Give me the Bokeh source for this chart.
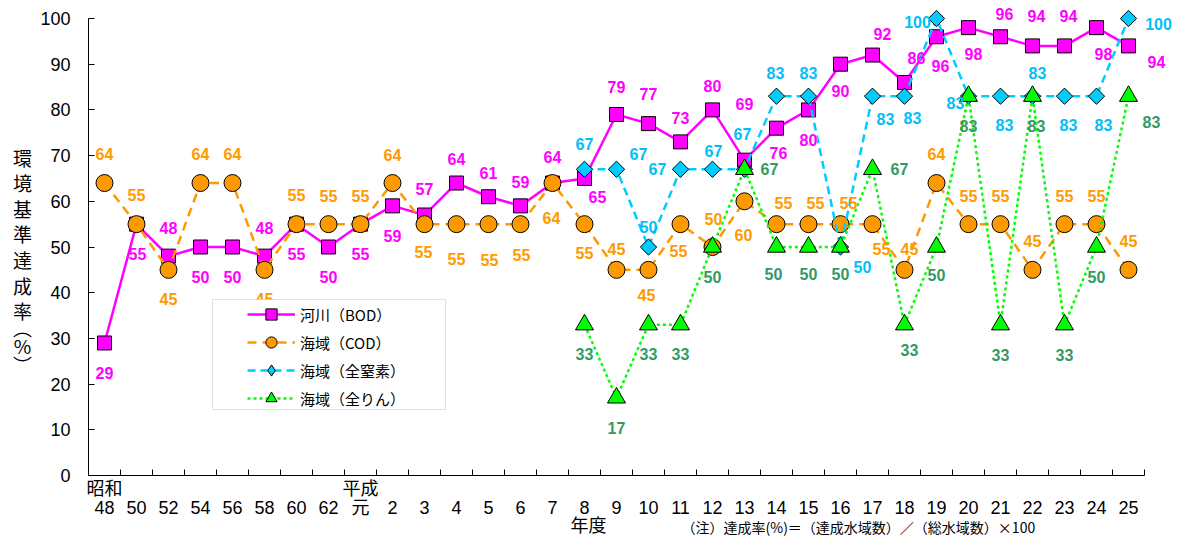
import numpy as np
from bokeh.plotting import figure
from bokeh.models import (ColumnDataSource, Range1d, FixedTicker, Legend, LegendItem,
                          Label, BoxAnnotation)
from bokeh.core.properties import value
from bokeh.embed import file_html
from bokeh.resources import INLINE

# ---------------- data ----------------
year_labels = ["昭和\n48", "50", "52", "54", "56", "58", "60", "62", "平成\n元",
               "2", "3", "4", "5", "6", "7", "8", "9", "10", "11", "12", "13", "14",
               "15", "16", "17", "18", "19", "20", "21", "22", "23", "24", "25"]

bod = [29, 55, 48, 50, 50, 48, 55, 50, 55, 59, 57, 64, 61, 59, 64, 65, 79, 77, 73,
       80, 69, 76, 80, 90, 92, 86, 96, 98, 96, 94, 94, 98, 94]
cod = [64, 55, 45, 64, 64, 45, 55, 55, 55, 64, 55, 55, 55, 55, 64, 55, 45, 45, 55,
       50, 60, 55, 55, 55, 55, 45, 64, 55, 55, 45, 55, 55, 45]
# 海域（全窒素）, 海域（全りん）: from 平成8年度
sea_start_label = "8"
nitrogen = [67, 67, 50, 67, 67, 67, 83, 83, 50, 83, 83, 100, 83, 83, 83, 83, 83, 100]
phosphorus = [33, 17, 33, 33, 50, 67, 50, 50, 50, 67, 33, 50, 83, 33, 83, 33, 50, 83]

series_names = ["河川（BOD）", "海域（COD）", "海域（全窒素）", "海域（全りん）"]
y_ticks = list(range(0, 101, 10))

y_title_main = "環\n境\n基\n準\n達\n成\n率"
y_title_unit = "︵\n%\n︶"
x_title = "年度"
note_text = "（注）達成率(%)＝（達成水域数）／（総水域数）×100"

# ---------------- label placement (pixel offsets, layout only) ----------------
bod_off = [(0, 30), (1, 30), (0, -28), (0, 30), (0, 30), (0, -28), (0, 30), (0, 30),
           (0, 30), (0, 30), (0, -26), (0, -24), (0, -24), (0, -24), (0, -26),
           (13, 19), (0, -27), (0, -30), (0, -24), (0, -24), (0, -56), (2, 25),
           (0, 30), (0, 27), (10, -21), (12, -24), (4, 29), (5, 26), (4, -23),
           (4, -30), (4, -30), (7, 26), (28, 16)]
cod_off = [(0, -29), (0, -29), (0, 29), (0, -29), (0, -29), (0, 29), (0, -29), (0, -28),
           (0, -28), (0, -28), (-1, 28), (0, 35), (1, 36), (1, 31), (-1, 35), (0, 29),
           (0, -21), (-2, 25), (-2, 27), (1, -28), (-1, 34), (7, -21), (7, -21),
           (8, -21), (9, 25), (5, -21), (0, -29), (0, -28), (0, -28), (0, -29),
           (0, -28), (0, -28), (0, -29)]
nit_off = [(0, -25), (22, -15), (0, -20), (-23, 0), (1, -18), (-2, -35), (-1, -23),
           (0, -23), (22, 20), (13, 23), (8, 22), (-19, 3), (-13, 7), (4, 29),
           (5, -23), (4, 29), (7, 29), (30, 5)]
pho_off = [(0, 29), (0, 30), (0, 29), (0, 29), (0, 30), (25, 0), (-3, 27), (0, 27),
           (0, 27), (27, 0), (5, 25), (0, 28), (0, 30), (0, 30), (4, 30), (0, 30),
           (0, 30), (23, 26)]

# ---------------- layout constants (canvas pixels) ----------------
W, H = 1176, 536
FIRST_X = 104      # canvas x of the first category
CAT_W = 32         # pixels per category
ZERO_Y = 475       # canvas y of value 0
PX_PER_UNIT = (475 - 18) / 100.0

n = len(year_labels)
x_start = -FIRST_X / CAT_W
x_end = (W - FIRST_X) / CAT_W
y_start = -(H - ZERO_Y) / PX_PER_UNIT
y_end = ZERO_Y / PX_PER_UNIT

p = figure(width=W, height=H, output_backend="svg", toolbar_location=None,
           x_range=Range1d(x_start, x_end), y_range=Range1d(y_start, y_end),
           min_border=0, min_border_left=0, min_border_right=0, min_border_top=0,
           min_border_bottom=0, background_fill_color="white",
           border_fill_color="white")
p.outline_line_color = None
p.xgrid.grid_line_color = None
p.ygrid.grid_line_color = None

num_font = "'Liberation Sans', 'Noto Sans CJK JP'"

# x axis (drawn at value 0)
xt = list(range(n))
p.xaxis.fixed_location = 0
p.xaxis.ticker = FixedTicker(ticks=xt, minor_ticks=[i + 0.5 for i in xt])
p.xaxis.major_label_overrides = {i: (lab if "\n" in lab else " \n" + lab)
                                 for i, lab in enumerate(year_labels)}
p.xaxis.bounds = (-0.5, n - 0.5)
p.xaxis.major_tick_in = 0
p.xaxis.major_tick_out = 0
p.xaxis.minor_tick_in = 6
p.xaxis.minor_tick_out = 0
p.xaxis.minor_tick_line_color = "black"
p.xaxis.axis_line_color = "black"
p.xaxis.major_label_text_font = num_font
p.xaxis.major_label_text_font_size = "18px"
p.xaxis.major_label_text_line_height = 0.95
p.xaxis.major_label_text_color = "black"
p.xaxis.major_label_standoff = 3

# y axis (drawn at the left category edge)
p.yaxis.fixed_location = -0.5
p.yaxis.ticker = FixedTicker(ticks=y_ticks)
p.yaxis.bounds = (0, 100)
p.yaxis.major_tick_in = 6
p.yaxis.major_tick_out = 0
p.yaxis.minor_tick_line_color = None
p.yaxis.axis_line_color = "black"
p.yaxis.major_tick_line_color = "black"
p.yaxis.major_label_text_font = num_font
p.yaxis.major_label_text_font_size = "18px"
p.yaxis.major_label_text_color = "black"
p.yaxis.major_label_standoff = 18

# ---------------- series ----------------
s0 = year_labels.index(sea_start_label)
x_river = list(range(n))
x_sea = list(range(s0, s0 + len(nitrogen)))

specs = [
    dict(x=x_river, y=bod, color="#FF00FF", dash="solid", marker="square", size=14,
         angle=0.0, tcolor="#FF00FF", off=bod_off, legend_marker=None),
    dict(x=x_river, y=cod, color="#FF9900", dash="9 6", marker="circle", size=17,
         angle=0.0, tcolor="#FF9900", off=cod_off, legend_marker=None),
    dict(x=x_sea, y=nitrogen, color="#00CCFF", dash="8 5", marker="square", size=11.5,
         angle=np.pi / 4, tcolor="#00C0F8", off=nit_off, legend_marker="diamond"),
    dict(x=x_sea, y=phosphorus, color="#00FF00", dash="3 3", marker="triangle", size=18,
         angle=0.0, tcolor="#339966", off=pho_off, legend_marker=None),
]

items = []
text_sources = []
for name, s in zip(series_names, specs):
    src = ColumnDataSource(dict(
        x=s["x"], y=s["y"], t=[str(v) for v in s["y"]],
        dx=[o[0] for o in s["off"]], dy=[o[1] for o in s["off"]]))
    lr = p.line("x", "y", source=src, line_color=s["color"], line_width=2.5,
                line_dash=s["dash"])
    sr = p.scatter("x", "y", source=src, marker=s["marker"], size=s["size"],
                   angle=s["angle"], fill_color=s["color"], line_color="black",
                   line_width=1)
    if s["legend_marker"]:
        # legend-only marker shape (size 0 on the plot)
        lm = p.scatter("x", "y", source=src, marker=s["legend_marker"], size=0,
                       fill_color=s["color"], line_color="black", line_width=1)
        items.append(LegendItem(label=name, renderers=[lr, lm]))
    else:
        items.append(LegendItem(label=name, renderers=[lr, sr]))
    text_sources.append((src, s["tcolor"]))

for src, tc in text_sources:
    p.text("x", "y", text="t", source=src, x_offset="dx", y_offset="dy",
           text_color=tc, text_font=value("Liberation Sans"), text_font_style="bold",
           text_font_size="16px", text_align="center", text_baseline="middle")

# ---------------- legend ----------------
box = BoxAnnotation(left=212, right=445, bottom=H - 409, top=H - 299,
                    left_units="screen", right_units="screen",
                    bottom_units="screen", top_units="screen",
                    fill_color="white", fill_alpha=1.0,
                    line_color="#A0A0A0", line_width=1)
p.add_layout(box)

legend = Legend(items=items, location=(247, H - 412), orientation="vertical",
                padding=0, spacing=0, margin=0, glyph_width=48, glyph_height=28,
                label_height=20, label_standoff=5,
                border_line_color=None, background_fill_alpha=0.0,
                label_text_font="Noto Sans CJK JP", label_text_font_size="15px",
                label_text_color="black")
p.add_layout(legend)

# ---------------- axis titles / note ----------------
p.add_layout(Label(x=22, y=H - 143, x_units="screen", y_units="screen",
                   text=y_title_main, text_align="center", text_baseline="top",
                   text_font="Noto Sans CJK JP", text_font_size="19px",
                   text_line_height=0.95, text_color="black"))
p.add_layout(Label(x=22, y=H - 313, x_units="screen", y_units="screen",
                   text=y_title_unit, text_align="center", text_baseline="top",
                   text_font="Noto Sans CJK JP", text_font_size="19px",
                   text_line_height=0.69, text_color="black"))
p.add_layout(Label(x=588, y=H - 523, x_units="screen", y_units="screen", text=x_title,
                   text_align="center", text_baseline="middle",
                   text_font="Noto Sans CJK JP", text_font_size="18px",
                   text_color="black"))
p.add_layout(Label(x=681, y=H - 526, x_units="screen", y_units="screen",
                   text=note_text, text_align="left", text_baseline="middle",
                   text_font="Noto Sans CJK JP", text_font_size="14px",
                   text_color="black"))

open("out.html", "w").write(file_html(p, INLINE))
